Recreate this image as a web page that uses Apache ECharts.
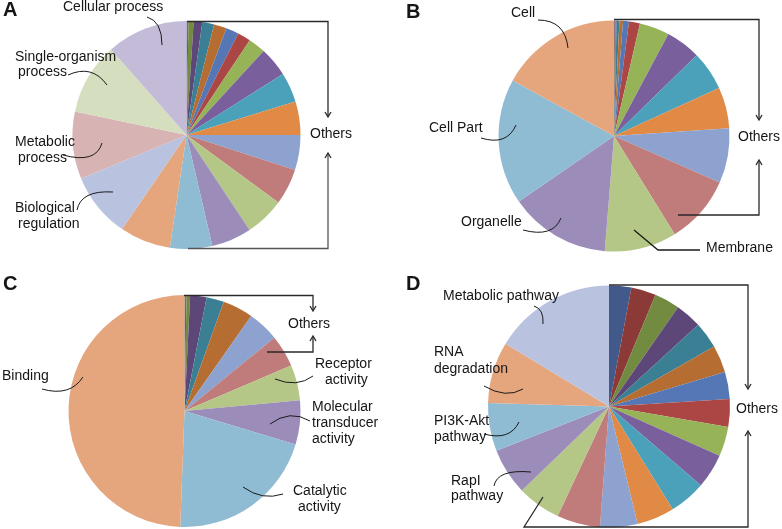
<!DOCTYPE html>
<html>
<head>
<meta charset="utf-8">
<script src="https://cdn.jsdelivr.net/npm/echarts@6/dist/echarts.min.js"></script>
<style>
html,body{margin:0;padding:0;background:#fff;}
#chart{width:782px;height:529px;}
</style>
</head>
<body>
<div id="chart"></div>
<script>
// ---- data (slice sizes, clockwise from 12 o'clock) ----
var namesA = ['A-term 1','A-term 2','A-term 3','A-term 4','A-term 5','A-term 6','A-term 7','A-term 8','A-term 9','A-term 10','A-term 11','A-term 12','A-term 13','A-term 14','A-term 15','A-term 16','A-term 17','A-term 18','Biological regulation','Metabolic process','Single-organism process','Cellular process'];
var valuesA = [0.4, 0.6, 2.6, 4.4, 6.0, 6.5, 6.5, 6.7, 8.9, 15.1, 15.2, 17.1, 17.9, 18.4, 20.1, 20.5, 21.5, 26.0, 33.2, 34.3, 36.7, 41.4];

var namesB = ['B-term 1','B-term 2','B-term 3','B-term 4','B-term 5','B-term 6','B-term 7','B-term 8','B-term 9','B-term 10','B-term 11','B-term 12','B-term 13','B-term 14','Membrane','Organelle','Cell Part','Cell'];
var valuesB = [0.3, 0.3, 0.3, 0.4, 1.4, 1.8, 3.0, 5.5, 15.1, 17.6, 19.8, 20.6, 27.7, 34.5, 36.3, 50.8, 63.3, 61.3];

var namesC = ['C-term 1','C-term 2','C-term 3','C-term 4','C-term 5','C-term 6','C-term 7','C-term 8','Receptor activity','Molecular transducer activity','Catalytic activity','Binding'];
var valuesC = [0.4, 0.6, 1.8, 8.2, 8.8, 15.3, 15.7, 16.1, 17.8, 22.1, 75.3, 177.9];

var namesD = ['D-term 1','D-term 2','D-term 3','D-term 4','D-term 5','D-term 6','D-term 7','D-term 8','D-term 9','D-term 10','D-term 11','D-term 12','D-term 13','D-term 14','D-term 15','RapI pathway','PI3K-Akt pathway','RNA degradation','Metabolic pathway'];
var valuesD = [10.7, 11.9, 12.2, 12.7, 12.8, 13.1, 13.0, 13.4, 14.2, 16.6, 17.6, 18.1, 18.0, 20.8, 21.0, 22.4, 23.1, 29.6, 58.8];

// ---- colour cycles (Excel-like: dark, base, light, lightest) ----
var darkCycle     = ['#42598C','#8C3A38','#728B41','#5C4778','#3B7F94','#B66D31'];
var baseCycle     = ['#5577B6','#AC4644','#97B358','#7A5F9D','#4BA1BA','#E08A45'];
var lightCycle    = ['#8DA2CF','#C07B7B','#B4C786','#9C8CBA','#8FBCD3','#E5A57D'];
var lightestCycle = ['#B9C3DF','#D8B3B3','#D5DEBE','#C3BBD7','#B9D7E4','#F2C8AE'];

function buildData(names, values, cycles) {
  var palette = [];
  cycles.forEach(function (c) { palette = palette.concat(c); });
  return values.map(function (v, i) {
    return { name: names[i], value: v, itemStyle: { color: palette[i] } };
  });
}

function pie(center, radius, data) {
  return {
    type: 'pie', center: center, radius: radius, startAngle: 90, clockwise: true,
    label: { show: false }, labelLine: { show: false }, silent: true,
    itemStyle: { borderWidth: 0 }, emphasis: { disabled: true },
    data: data
  };
}

var FONT = '14px "Liberation Sans", Arial, sans-serif';
var BOLD = 'bold 20px "Liberation Sans", Arial, sans-serif';
var graphics = [];
function txt(s, x, y, font) {
  graphics.push({ type: 'text', z: 100, style: { text: s, x: x, y: y, font: font || FONT, fill: '#151515', align: 'left', verticalAlign: 'middle' } });
}
function curve(x1, y1, cx, cy, x2, y2) {
  graphics.push({ type: 'bezierCurve', z: 100, shape: { x1: x1, y1: y1, cpx1: cx, cpy1: cy, x2: x2, y2: y2 }, style: { stroke: '#1a1a1a', lineWidth: 1, fill: null } });
}
function poly(pts, color) {
  graphics.push({ type: 'polyline', z: 100, shape: { points: pts }, style: { stroke: color || '#2a2a2a', lineWidth: 1.3, fill: null } });
}
function arrowDown(x, y) { poly([[x - 3, y - 5], [x, y], [x + 3, y - 5]]); }
function arrowUp(x, y) { poly([[x - 3, y + 5], [x, y], [x + 3, y + 5]]); }

// panel letters
txt('A', 3, 10, BOLD); txt('B', 406, 12, BOLD); txt('C', 3, 284, BOLD); txt('D', 406, 284, BOLD);

// Panel A labels
txt('Cellular process', 63, 7);  curve(147, 17, 162, 21, 162, 45);
txt('Single-organism', 15, 57); txt('process', 18, 72); curve(68, 75, 92, 64, 107, 85);
txt('Metabolic', 15, 142); txt('process', 18, 158); curve(63, 155, 96, 164, 102, 143);
txt('Biological', 15, 208); txt('regulation', 18, 224); curve(77, 210, 81, 190, 113, 192);
txt('Others', 310, 134);
poly([[187, 21.5], [328, 21.5], [328, 116]]); arrowDown(328, 117);
poly([[188, 248.5], [328, 248.5], [328, 154]], '#555'); arrowUp(328, 153);

// Panel B labels
txt('Cell', 511, 13); curve(538, 20, 565, 20, 568, 48);
txt('Cell Part', 429, 128); curve(481, 138, 507, 146, 516, 125);
txt('Organelle', 461, 222); curve(523, 230, 553, 238, 561, 218);
txt('Membrane', 706, 248); poly([[634, 230], [658, 250], [700, 250]], '#1a1a1a');
txt('Others', 738, 137);
poly([[614, 19.5], [759, 19.5], [759, 119]]); arrowDown(759, 120);
poly([[678, 215], [759, 215], [759, 161]]); arrowUp(759, 160);

// Panel C labels
txt('Binding', 2, 376); curve(42, 389, 70, 397, 83, 377);
txt('Others', 288, 324);
poly([[184, 295.5], [313, 295.5], [313, 310]]); arrowDown(313, 311);
poly([[267, 352], [313, 352], [313, 337]]); arrowUp(313, 336);
txt('Receptor', 315, 364); txt('activity', 325, 380); curve(275, 379, 297, 388, 313, 376);
txt('Molecular', 312, 407); txt('transducer', 312, 423); txt('activity', 312, 439); curve(270, 424, 290, 409, 310, 421);
txt('Catalytic', 293, 491); txt('activity', 298, 507); curve(243, 487, 262, 501, 283, 494);

// Panel D labels
txt('Metabolic pathway', 443, 296); curve(534, 306, 544, 309, 543, 324);
txt('RNA', 434, 352); txt('degradation', 434, 369); curve(484, 386, 506, 399, 523, 389);
txt('PI3K-Akt', 434, 421); txt('pathway', 434, 437); curve(484, 434, 510, 441, 519, 422);
txt('RapI', 451, 481); txt('pathway', 451, 496); curve(494, 486, 497, 469, 531, 472);
txt('Others', 736, 409);
poly([[609, 285], [748, 285], [748, 388]]); arrowDown(748, 389);
poly([[543, 497], [524, 527], [748, 527], [748, 432]]); arrowUp(748, 431);

var chart = echarts.init(document.getElementById('chart'), null, { renderer: 'canvas' });
chart.setOption({
  animation: false,
  backgroundColor: '#ffffff',
  series: [
    pie([186.5, 135], 114, buildData(namesA, valuesA, [darkCycle, baseCycle, lightCycle, lightestCycle])),
    pie([614, 136], 115.5, buildData(namesB, valuesB, [darkCycle, baseCycle, lightCycle])),
    pie([184.5, 411], 116, buildData(namesC, valuesC, [darkCycle, lightCycle])),
    pie([609, 406.5], 121, buildData(namesD, valuesD, [darkCycle, baseCycle, lightCycle, lightestCycle]))
  ],
  graphic: graphics
});
</script>
</body>
</html>
